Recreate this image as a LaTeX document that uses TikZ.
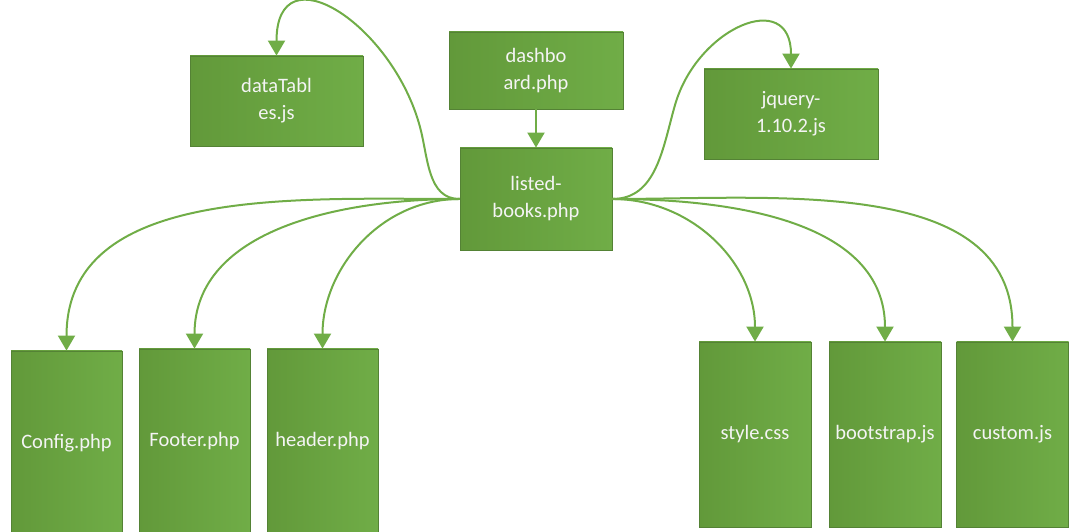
\documentclass[tikz,border=0pt]{standalone}
\usepackage{fontspec}
\setmainfont{Carlito}
\usetikzlibrary{arrows.meta}
\definecolor{boxleft}{RGB}{98,153,58}
\definecolor{boxright}{RGB}{112,173,71}
\definecolor{boxline}{RGB}{84,130,53}
\definecolor{linkgreen}{RGB}{112,173,71}
\definecolor{boxtext}{RGB}{244,244,244}
\begin{document}
\begin{tikzpicture}[x=1pt,y=1pt]
		\tikzstyle{filebox}=[draw=boxline, line width=0.8pt, left color=boxleft, right color=boxright, text=boxtext, align=center, inner sep=0pt, font=\fontsize{20.5}{27}\selectfont]
		\tikzstyle{link}=[draw=linkgreen, line width=2pt, -{Triangle[width=17pt,length=15pt]}]
		\useasboundingbox (0,0) rectangle (1071,532);
		% top row
		\node[filebox, minimum width=173, minimum height=90] (dataTables) at (276.5,431) {dataTabl\\es.js};
		\node[filebox, minimum width=174, minimum height=77] (dashboard) at (536,461.5) {dashbo\\ard.php};
		\node[filebox, minimum width=174, minimum height=90] (jquery) at (791,418) {jquery-\\1.10.2.js};
		\node[filebox, minimum width=152, minimum height=102] (listed) at (536,333) {listed-\\books.php};
		% bottom row
		\node[filebox, minimum width=111, minimum height=185] (config) at (66.5,88.5) {Config.php};
		\node[filebox, minimum width=111, minimum height=185] (footer) at (194.5,90.5) {Footer.php};
		\node[filebox, minimum width=111, minimum height=185] (header) at (322.5,90.5) {header.php};
		\node[filebox, minimum width=112, minimum height=185] (style) at (755,97.5) {style.css};
		\node[filebox, minimum width=112, minimum height=185] (bootstrap) at (885,97.5) {bootstrap.js};
		\node[filebox, minimum width=112, minimum height=185] (custom) at (1012.5,97.5) {custom.js};
		\coordinate (dtbend) at (420,405);
		\coordinate (jqbend) at (675,427);
		% connectors
		\draw[link] (dashboard.south) -- (listed.north);
		\draw[link] (listed.west) to[out=180,in=-75] (dtbend) to[out=105,in=90,looseness=1.7] (dataTables.north);
		\draw[link] (listed.east) to[out=0,in=-106] (jqbend) to[out=74,in=90,looseness=1.7] (jquery.north);
		\draw[link] (listed.west) to[out=180,in=90] (config.north);
		\draw[link] (listed.west) to[out=180,in=90] (footer.north);
		\draw[link] (listed.west) to[out=180,in=90] (header.north);
		\draw[link] (listed.east) to[out=0,in=90] (style.north);
		\draw[link] (listed.east) to[out=0,in=90] (bootstrap.north);
		\draw[link] (listed.east) to[out=0,in=90] (custom.north);
	\end{tikzpicture}
\end{document}
